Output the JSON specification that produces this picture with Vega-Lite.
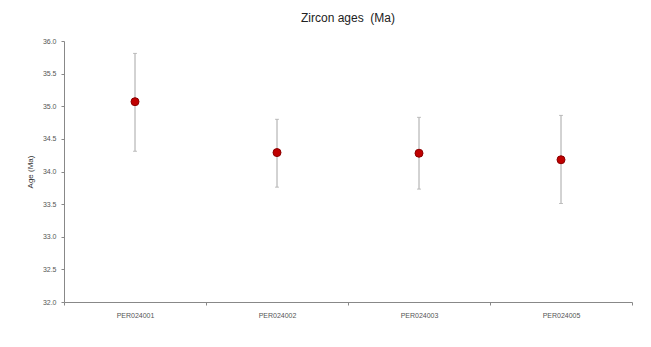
{
  "$schema": "https://vega.github.io/schema/vega-lite/v6.json",
  "width": 568,
  "height": 261,
  "autosize": {"type": "none"},
  "padding": {"left": 64, "top": 41, "right": 19, "bottom": 45},
  "background": "white",
  "title": {"text": "Zircon ages \u00a0(Ma)", "font": "Liberation Sans", "fontSize": 12, "fontWeight": "normal", "color": "#222222", "offset": 12, "anchor": "middle"},
  "config": {"view": {"stroke": null},
    "axisY": {"titleFontSize": 8, "titleFontWeight": "normal", "titleColor": "#333333", "titleFont": "Liberation Sans", "titlePadding": 8,
      "labelOverlap": false, "labelFontSize": 7, "labelColor": "#555555", "labelFont": "Liberation Sans",
      "grid": false, "domainColor": "#888888", "tickColor": "#888888", "tickSize": 3, "labelPadding": 5}},
  "data": {"values": [
    {"sample": "PER024001", "age": 35.07, "lo": 34.31, "hi": 35.81},
    {"sample": "PER024002", "age": 34.29, "lo": 33.76, "hi": 34.80},
    {"sample": "PER024003", "age": 34.28, "lo": 33.73, "hi": 34.83},
    {"sample": "PER024005", "age": 34.18, "lo": 33.51, "hi": 34.86}
  ]},
  "encoding": {
    "x": {"field": "sample", "type": "nominal", "sort": null,
      "scale": {"paddingInner": 0, "paddingOuter": 0},
      "axis": {"title": null, "labelAngle": 0, "labelFontSize": 7, "labelColor": "#555555", "labelFont": "Liberation Sans",
        "domainColor": "#888888", "tickColor": "#888888", "tickBand": "extent", "tickSize": 3, "labelPadding": 6}}
  },
  "layer": [
    {
      "mark": {"type": "rule", "color": "#a6a6a6", "strokeWidth": 1},
      "encoding": {
        "y": {"field": "lo", "type": "quantitative", "scale": {"domain": [32, 36], "nice": false, "zero": false},
          "axis": {"title": "Age (Ma)", "values": [32, 32.5, 33, 33.5, 34, 34.5, 35, 35.5, 36], "format": ".1f"}},
        "y2": {"field": "hi"}
      }
    },
    {
      "mark": {"type": "tick", "orient": "horizontal", "color": "#a6a6a6", "size": 4, "thickness": 1},
      "encoding": {"y": {"field": "lo", "type": "quantitative", "axis": {"title": "Age (Ma)", "values": [32, 32.5, 33, 33.5, 34, 34.5, 35, 35.5, 36], "format": ".1f"}}}
    },
    {
      "mark": {"type": "tick", "orient": "horizontal", "color": "#a6a6a6", "size": 4, "thickness": 1},
      "encoding": {"y": {"field": "hi", "type": "quantitative", "axis": {"title": "Age (Ma)", "values": [32, 32.5, 33, 33.5, 34, 34.5, 35, 35.5, 36], "format": ".1f"}}}
    },
    {
      "mark": {"type": "point", "shape": "circle", "filled": true, "size": 64, "fill": "#c00000", "stroke": "#8b0000", "strokeWidth": 1, "opacity": 1},
      "encoding": {"y": {"field": "age", "type": "quantitative", "axis": {"title": "Age (Ma)", "values": [32, 32.5, 33, 33.5, 34, 34.5, 35, 35.5, 36], "format": ".1f"}}}
    }
  ]
}
